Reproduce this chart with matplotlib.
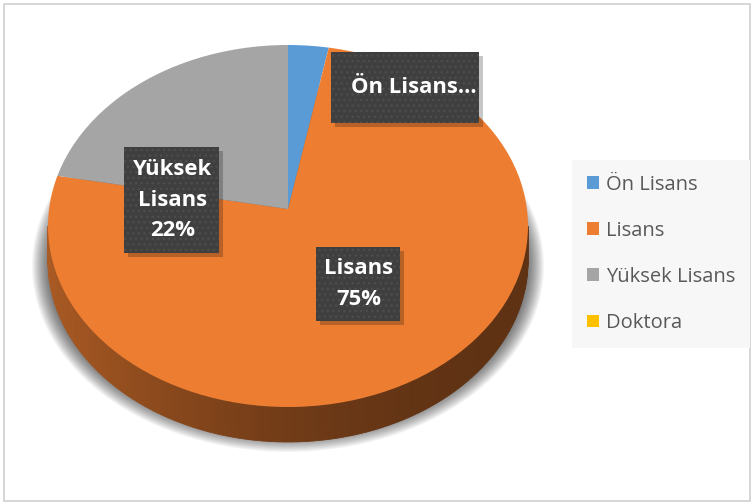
import numpy as np
import matplotlib.pyplot as plt
from matplotlib.patches import Ellipse, Rectangle, Patch
from matplotlib.colors import to_rgb

# ==============================
# Data
# ==============================

categories = ["Ön Lisans", "Lisans", "Yüksek Lisans", "Doktora"]
shares = [3, 75, 22, 0]
colors = ["#5b9bd5", "#ed7d31", "#a5a5a5", "#ffc000"]
label_texts = ["Ön Lisans…", "Lisans\n75%", "Yüksek\nLisans\n22%"]

# ==============================
# Layout (pixels of the 753x504 picture)
# ==============================

W, H = 753, 504
CX, CY = 288, 226        # centre of the top face
RX, RY = 240, 181        # half axes of the top face
TIP_Y = 209              # perspective: the slice tip sits above the centre
DEPTH = 35               # thickness of the 3D side

# label boxes: (left, top, width, height) in pixels, text x shift
label_boxes = [(331, 52, 148, 71), (316, 247, 84, 74), (124, 147, 95, 106)]
label_dx = [9, 1, 1]


def px(x, y):
    return (x - CX) / RX, (CY - y) / RY


fig = plt.figure(figsize=(W / 100, H / 100), dpi=100)
ax = fig.add_axes([0, 0, 1, 1])

# soft shadow under the pie
for i in range(20, -1, -1):
    ax.add_patch(Ellipse(px(CX, CY + 40), width=2 * (RX - 4 + i) / RX,
                         height=2 * (RY - 15 + i) / RY,
                         facecolor="black", alpha=0.04, linewidth=0, zorder=0))

# side wall (front half), coloured by the slice that covers each angle
fracs = np.array(shares, dtype=float) / sum(shares)
edges = np.cumsum(fracs)
theta = np.linspace(np.pi, 2 * np.pi, 181)
d = DEPTH / RY
for t0, t1 in zip(theta[:-1], theta[1:]):
    tm = (t0 + t1) / 2
    pos = ((np.pi / 2 - tm) / (2 * np.pi)) % 1.0
    k = int(np.searchsorted(edges, pos, side="right"))
    k = min(k, len(colors) - 1)
    xm = np.cos(tm)
    f = 0.40 + 0.32 * ((1 - xm) / 2) ** 2
    c = tuple(v * f for v in to_rgb(colors[k]))
    xs = [np.cos(t0), np.cos(t1), np.cos(t1), np.cos(t0)]
    ys = [np.sin(t0), np.sin(t1), np.sin(t1) - d, np.sin(t0) - d]
    ax.fill(xs, ys, color=c, linewidth=0.6, edgecolor=c, zorder=1)

# top face: slices drawn from the raised tip, clipped to the ellipse
tip = (0, (CY - TIP_Y) / RY)
wedges, _ = ax.pie(shares, colors=colors, startangle=90, counterclock=False,
                   radius=1.2, center=tip, frame=True,
                   wedgeprops=dict(linewidth=0, zorder=2))
top_face = Ellipse((0, 0), 2, 2, facecolor="none", edgecolor="none",
                   linewidth=0, zorder=2)
ax.add_patch(top_face)
for w in wedges:
    w.set_clip_on(True)
    w.set_clip_path(top_face)

ax.set_aspect("auto")
ax.set_xlim(px(0, 0)[0], px(W, 0)[0])
ax.set_ylim(px(0, H)[1], px(0, 0)[1])
ax.axis("off")

# data labels
for text, (bx, by, bw, bh), dx in zip(label_texts, label_boxes, label_dx):
    sx, sy = px(bx + 4, by + bh + 4)
    ax.add_patch(Rectangle((sx, sy), bw / RX, bh / RY, facecolor="black",
                           alpha=0.22, linewidth=0, zorder=3))
    x0, y0 = px(bx, by + bh)
    ax.add_patch(Rectangle((x0, y0), bw / RX, bh / RY, facecolor="#3f3f3f",
                           edgecolor="#4d4d4d", hatch="...", linewidth=0, zorder=4))
    tx, ty = px(bx + bw / 2 + dx, by + bh / 2)
    ax.text(tx, ty, text, ha="center", va="center", multialignment="center",
            color="white", fontsize=15.8, fontweight="bold", family="Open Sans",
            linespacing=1.6, zorder=5)

# legend
handles = [Patch(facecolor=c, edgecolor="none") for c in colors]
leg = fig.legend(handles, categories, loc="upper left",
                 bbox_to_anchor=(572 / W, 1 - 160 / H), frameon=True,
                 fancybox=False, facecolor="#f7f7f7", edgecolor="none",
                 framealpha=1, prop={"family": "Open Sans", "size": 14.5},
                 labelcolor="#595959", handlelength=0.6, handleheight=0.6,
                 handletextpad=0.36, labelspacing=1.3, borderpad=0.72,
                 borderaxespad=0)

# chart border
fig.patches.append(Rectangle((4 / W, 3 / H), 746 / W, 497 / H,
                             transform=fig.transFigure, fill=False,
                             edgecolor="#d0d0d0", linewidth=1.2))

fig.savefig("out.png", dpi=100)
